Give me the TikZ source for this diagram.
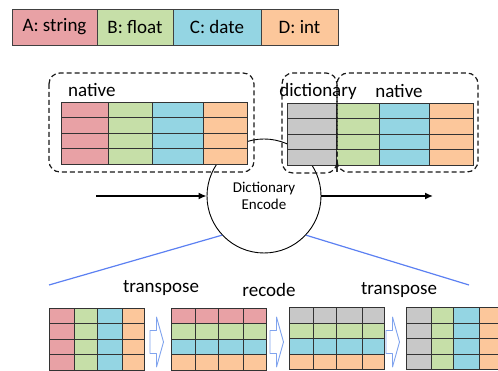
\documentclass[tikz,border=0pt]{standalone}
\usepackage{fontspec}
\setmainfont{Carlito}
\usetikzlibrary{arrows.meta}

\definecolor{cA}{HTML}{E8A1A5}
\definecolor{cB}{HTML}{C6DFA8}
\definecolor{cC}{HTML}{94D5E3}
\definecolor{cD}{HTML}{FCC79B}
\definecolor{cG}{HTML}{C8C8C8}
\definecolor{zoomblue}{HTML}{5C80F2}
\definecolor{arrowblue}{HTML}{7FA3EE}

% column-coloured grid: top y, row height, list of x0/x1/colour
\newcommand\colgrid[3]{%
  \foreach \xa/\xb/\cc in {#3}{%
    \foreach \r in {0,1,2,3}{%
      \draw[cell,fill=\cc] (\xa,{#1+\r*#2}) rectangle (\xb,{#1+(\r+1)*#2});}}}
% row-coloured grid: top y, row height, list of x0/x1, list of row colours
\newcommand\rowgrid[4]{%
  \foreach \cc [count=\r from 0] in {#4}{%
    \foreach \xa/\xb in {#3}{%
      \draw[cell,fill=\cc] (\xa,{#1+\r*#2}) rectangle (\xb,{#1+(\r+1)*#2});}}}

\begin{document}
\begin{tikzpicture}[x=1pt,y=-1pt,
  cell/.style={draw=black!80,line width=0.8pt},
  legcell/.style={draw=black!75,line width=0.8pt,minimum height=36pt,inner sep=0pt,
    font=\fontsize{19}{21}\selectfont},
  grp/.style={draw=black!90,line width=1.2pt,rounded corners=11pt,dash pattern=on 5pt off 3pt},
  lbl/.style={font=\fontsize{19}{21}\selectfont,inner sep=0pt},
  flow/.style={draw=black,line width=1.4pt,-{Latex[length=8pt,width=7pt]}},
  zoomline/.style={draw=zoomblue,line width=1.2pt},
  blockarr/.pic={\draw[arrowblue,line width=0.9pt,fill=white,line join=round]
    (0,-11.5) -- (6.5,-11.5) -- (6.5,-25) -- (13.5,0) -- (6.5,25) -- (6.5,11.5) -- (0,11.5) -- cycle;}
]
\useasboundingbox (0,0) rectangle (498,371);
\clip (0,0) rectangle (498,371);

% legend of column types
\node[legcell,fill=cA,minimum width=85pt] (legA) at (54.5,27) {A: string};
\node[legcell,fill=cB,minimum width=76pt] (legB) at (135,27) {B: float};
\node[legcell,fill=cC,minimum width=88pt] (legC) at (217,27) {C: date};
\node[legcell,fill=cD,minimum width=77pt] (legD) at (299.5,27) {D: int};

% the encoding step
\node[circle,draw=black,fill=white,line width=0.9pt,minimum size=114pt,inner sep=0pt,
  align=center,font=\fontsize{15}{17}\selectfont] (enc) at (264,196) {Dictionary\\Encode};

% input table, all columns native
\colgrid{102}{15.5}{61/108/cA,108/152/cB,152/203/cC,203/247/cD}
% output table, first column dictionary encoded
\colgrid{103}{15.5}{287/336/cG,336/379/cB,379/429/cC,429/473/cD}

% groupings; the two right-hand groups share the edge at x=337,
% their dashes are offset so that the shared edge reads as one line
\draw[grp] (49,73) rectangle (254,172);
\draw[grp] (337,161) -- (337,73) -- (282,73) -- (282,173) -- (337,173) -- cycle;
\draw[grp,dash phase=4pt] (337,161) -- (337,73) -- (478,73) -- (478,172) -- (337,172) -- cycle;

\node[lbl,anchor=west] (natL) at (68,90) {native};
\node[lbl] (dict) at (318,91) {dictionary};
\node[lbl] (natR) at (399,91) {native};

% data flow through the encoder
\coordinate (inL) at (96,196);
\coordinate (outR) at (433,196);
\draw[flow] (inL) -- (enc.west);
\draw[flow] (enc.east) -- (outR);

% zoom into the encoder
\coordinate (zl) at (49,285);
\coordinate (zr) at (469,285);
\draw[zoomline] (enc.-137) -- (zl);
\draw[zoomline] (enc.-43) -- (zr);

% steps of the encoder
\colgrid{308}{15.5}{49/74/cA,74/97/cB,97/122/cC,122/144/cD}
\rowgrid{308}{15.5}{171/195,195/218,218/243,243/266}{cA,cB,cC,cD}
\rowgrid{307.5}{15.5}{289/313,313/336,336/362,362/384}{cG,cB,cC,cD}
\colgrid{307.5}{15.5}{406/431/cG,431/453/cB,453/479/cC,479/502/cD}

\pic (s1) at (150,342) {blockarr};
\pic (s2) at (270,342) {blockarr};
\pic (s3) at (386,342) {blockarr};

\node[lbl] (tr1) at (161,288) {transpose};
\node[lbl] (rec) at (269,290) {recode};
\node[lbl] (tr2) at (399,290) {transpose};
\end{tikzpicture}
\end{document}
